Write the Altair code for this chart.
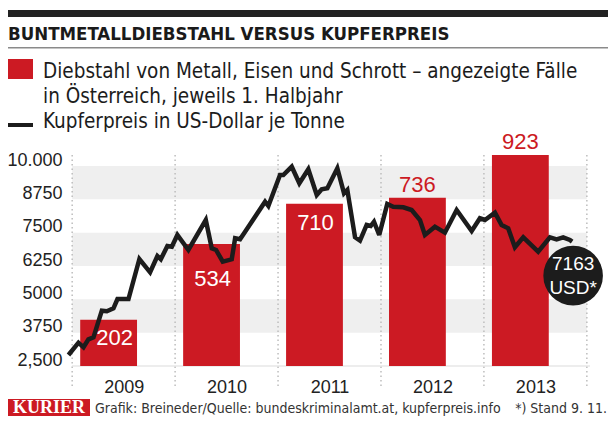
import altair as alt
import pandas as pd

# ---------------- data ----------------
years = [2009, 2010, 2011, 2012, 2013]
cases = [202, 534, 710, 736, 923]

price_time = [2008.964, 2009.061, 2009.110, 2009.158, 2009.207, 2009.288, 2009.337, 2009.401,
              2009.440, 2009.547, 2009.653, 2009.757, 2009.828, 2009.861, 2009.925, 2009.968,
              2010.022, 2010.129, 2010.298, 2010.356, 2010.398, 2010.463, 2010.550, 2010.583,
              2010.631, 2010.680, 2010.874, 2010.906, 2011.019, 2011.051, 2011.133, 2011.207,
              2011.294, 2011.376, 2011.424, 2011.479, 2011.576, 2011.641, 2011.673, 2011.748,
              2011.796, 2011.861, 2011.900, 2011.932, 2011.983, 2012.061, 2012.119, 2012.217,
              2012.298, 2012.379, 2012.427, 2012.524, 2012.621, 2012.735, 2012.881, 2012.961,
              2013.010, 2013.107, 2013.172, 2013.236, 2013.301, 2013.382, 2013.527, 2013.641,
              2013.706, 2013.770, 2013.835, 2013.857]
price_usd = [2912, 3374, 3201, 3501, 3576, 4574, 4551, 4664,
             5013, 5013, 6513, 6014, 6625, 6501, 7000, 6974,
             7413, 6850, 7975, 6914, 6850, 6411, 6501, 7289,
             7251, 7536, 8661, 8500, 9663, 9663, 9974, 9351,
             9876, 8913, 9126, 9164, 9914, 8976, 9100, 7326,
             7199, 7788, 7750, 7911, 7413, 8575, 8474, 8451,
             8350, 7975, 7413, 7724, 7499, 8350, 7563, 8039,
             7975, 8249, 7788, 7664, 6951, 7326, 6786, 7326,
             7251, 7326, 7225, 7163]

tick_values = [2500, 3750, 5000, 6250, 7500, 8750, 10000]
tick_labels = ["2,500", "3750", "5000", "6250", "7500", "8750", "10.000"]
band_low = [3750, 6250, 8750]
band_high = [5000, 7500, 10000]
grid_years = [2009, 2010, 2011, 2012, 2013, 2014]

title_text = "BUNTMETALLDIEBSTAHL VERSUS KUPFERPREIS"
legend_bar_1 = "Diebstahl von Metall, Eisen und Schrott – angezeigte Fälle"
legend_bar_2 = "in Österreich, jeweils 1. Halbjahr"
legend_line = "Kupferpreis in US-Dollar je Tonne"
footer_brand = "KURIER"
footer_source = "Grafik: Breineder/Quelle: bundeskriminalamt.at, kupferpreis.info"
footer_note = "*) Stand 9. 11."
bubble_unit = "USD*"

# ---------------- styles ----------------
W, H = 526, 220
X_DOMAIN = [2008.94, 2014.05]
P_DOMAIN = [2500, 10750]
C_DOMAIN = [0, 962.5]
RED = "#cc1a23"
INK = "#1c1c1c"
NARROW = "DejaVu Sans Condensed, Liberation Sans"
SANS = "Liberation Sans"

bars_df = pd.DataFrame({"year": years, "cases": cases})
line_df = pd.DataFrame({"t": price_time, "price": price_usd})
band_df = pd.DataFrame({"lo": band_low, "hi": band_high,
                        "x0": [grid_years[0]] * len(band_low), "x1": [grid_years[-1]] * len(band_low)})
grid_df = pd.DataFrame({"year": grid_years})
one = pd.DataFrame({"a": [1]})

xs = alt.Scale(domain=X_DOMAIN, nice=False, zero=False)
ps = alt.Scale(domain=P_DOMAIN, nice=False, zero=False)
cs = alt.Scale(domain=C_DOMAIN, nice=False, zero=False)

label_map = " : ".join(f"datum.value == {v} ? '{l}'" for v, l in zip(tick_values, tick_labels))
label_expr = label_map + " : datum.value"

bands = alt.Chart(band_df).mark_rect(color="#efefef").encode(
    x=alt.X("x0:Q", scale=xs, axis=alt.Axis(values=[y + 0.5 for y in years], labelExpr="floor(datum.value)",
                                            ticks=False, domain=False, grid=False, title=None,
                                            labelFont=SANS, labelFontSize=18, labelColor="#222",
                                            labelPadding=12)),
    x2="x1:Q",
    y=alt.Y("lo:Q", scale=ps, axis=None),
    y2="hi:Q",
)

grid = alt.Chart(grid_df).mark_rule(color="#bdbdbd", strokeDash=[1.5, 3], strokeWidth=1.5).encode(
    x=alt.X("year:Q", scale=xs),
    y=alt.value(9),
    y2=alt.value(242),
)

baseline = alt.Chart(one).mark_rule(color="#dcdcdc", strokeWidth=1.2).encode(
    x=alt.value(6),
    x2=alt.value(524),
    y=alt.value(H),
)

price_axis = alt.Chart(one).mark_point(opacity=0).encode(
    y=alt.Y("v:Q", scale=ps, axis=alt.Axis(values=tick_values, labelExpr=label_expr, ticks=False,
                                           domain=False, grid=False, title=None, labelFont=SANS,
                                           labelFontSize=18, labelColor="#222", labelPadding=4,
                                           labelOffset=-6)),
).transform_calculate(v="2500")

bars = alt.Chart(bars_df).mark_rect(color=RED).transform_calculate(
    x0="datum.year + 0.078", x1="datum.year + 0.63"
).encode(
    x=alt.X("x0:Q", scale=xs),
    x2="x1:Q",
    y=alt.Y("cases:Q", scale=cs, axis=None),
    y2=alt.datum(0),
)


def bar_label(expr, dy, dx, color):
    return alt.Chart(bars_df).transform_filter(expr).transform_calculate(
        xc="datum.year + 0.354"
    ).mark_text(font=SANS, fontSize=22, color=color, dy=dy, dx=dx, baseline="middle", align="center").encode(
        x=alt.X("xc:Q", scale=xs),
        y=alt.Y("cases:Q", scale=cs, axis=None),
        text="cases:Q",
    )


lab_a = bar_label("datum.year == 2009", 18, 6, "white")
lab_b = bar_label("datum.year == 2010", 35, 1, "white")
lab_c = bar_label("datum.year == 2011", 19, 1, "white")
lab_d = bar_label("datum.year >= 2012", -13, 0, RED)

line = alt.Chart(line_df).mark_line(color=INK, strokeWidth=4.5, strokeJoin="miter", strokeMiterLimit=3).encode(
    x=alt.X("t:Q", scale=xs),
    y=alt.Y("price:Q", scale=ps, axis=None),
)

last = line_df.tail(1)
bubble = alt.Chart(last).mark_circle(color=INK, opacity=1, size=3550, xOffset=1, yOffset=34).encode(
    x=alt.X("t:Q", scale=xs),
    y=alt.Y("price:Q", scale=ps, axis=None),
)
bubble_val = alt.Chart(last).mark_text(font=SANS, fontSize=19, color="white", dx=1, dy=22,
                                       baseline="middle").encode(
    x=alt.X("t:Q", scale=xs),
    y=alt.Y("price:Q", scale=ps, axis=None),
    text=alt.Text("price:Q", format="d"),
)
bubble_unit_t = alt.Chart(last).mark_text(font=SANS, fontSize=19, color="white", dx=1, dy=46,
                                          baseline="middle", text=bubble_unit).encode(
    x=alt.X("t:Q", scale=xs),
    y=alt.Y("price:Q", scale=ps, axis=None),
)


def box(x0, x1, y0, y1, color):
    return alt.Chart(one).mark_rect(color=color).encode(
        x=alt.value(x0), x2=alt.value(x1), y=alt.value(y0), y2=alt.value(y1))


def label(txt, x, y, size, font=NARROW, weight="normal", color=INK, align="left"):
    return alt.Chart(one).mark_text(text=txt, font=font, fontSize=size, fontWeight=weight, color=color,
                                    align=align, baseline="alphabetic").encode(
        x=alt.value(x), y=alt.value(y))


top_bar = box(-58, 542, -136, -129, "#222222")
title_rule = box(-58, 542, -99, -97.5, "#8a8a8a")
title = label(title_text, -58, -106, 18.5, weight="bold", color="#1a1a1a")
leg_sq = box(-58, -33, -87, -67, RED)
leg_t1 = label(legend_bar_1, -23, -68, 20.5)
leg_t2 = label(legend_bar_2, -23, -43, 20.5)
leg_ln = alt.Chart(one).mark_rule(color=INK, strokeWidth=4).encode(
    x=alt.value(-58), x2=alt.value(-33), y=alt.value(-21))
leg_t3 = label(legend_line, -23, -18, 20.5)
foot_box = box(-58, 24, 253, 270, RED)
foot_brand = label(footer_brand, -17, 267, 18, font="Liberation Serif", weight="bold", color="white",
                   align="center")
foot_src = label(footer_source, 29, 267, 14, color="#333")
foot_note = label(footer_note, 541, 267, 14, color="#333", align="right")

chart = alt.layer(
    bands, grid, baseline, price_axis, bars, line, lab_a, lab_b, lab_c, lab_d,
    bubble, bubble_val, bubble_unit_t,
    top_bar, title_rule, title, leg_sq, leg_t1, leg_t2, leg_ln, leg_t3,
    foot_box, foot_brand, foot_src, foot_note,
).resolve_scale(y="independent").properties(
    width=W, height=H,
    padding={"left": 58, "top": 138, "right": 16, "bottom": 50},
    autosize=alt.AutoSizeParams(type="none"),
    background="white",
).configure_view(stroke=None)

chart.save("out.html", embed_options={"renderer": "svg", "actions": False})
